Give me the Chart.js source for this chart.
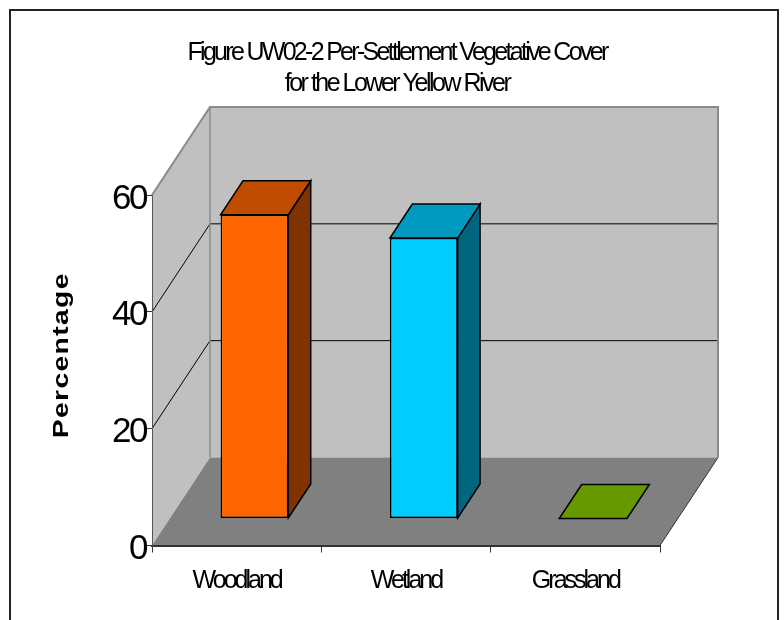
<!DOCTYPE html>
<html>
<head>
<meta charset="utf-8">
<title>Per-Settlement Vegetative Cover</title>
<style>
  html, body { margin: 0; padding: 0; background: #fff; }
  #wrap { width: 784px; height: 620px; }
  canvas { display: block; }
</style>
<script src="https://cdn.jsdelivr.net/npm/chart.js@4.4.1/dist/chart.umd.min.js"></script>
</head>
<body>
<div id="wrap"><canvas id="chart" width="784" height="620"></canvas></div>
<script>
// ---- data ----
const categories = ['Woodland', 'Wetland', 'Grassland'];
const coverPercent = [52, 48, 0];
const yTicks = [0, 20, 40, 60];
const titleLines = ['Figure UW02-2 Per-Settlement Vegetative Cover', 'for the Lower Yellow River'];
const axisTitle = 'Percentage';

// ---- face colours per bar (front / top / right side) ----
const frontColors = ['#FF6600', '#00CCFF', '#99CC00'];
const topColors = ['#C04C00', '#0099C0', '#669900'];
const sideColors = ['#803300', '#006680', '#4D6600'];

// ---- oblique depth of the box and of the bars ----
const DEPTH = { x: 58, y: -88 };
const BAR_FRONT = 0.307;   // fraction of the floor depth in front of the bars
const BAR_DEPTH = 0.386;   // fraction of the floor depth the bars occupy

const FONT = "'Liberation Sans', Arial, Helvetica, sans-serif";
Chart.defaults.font.family = FONT;

// run a drawing method with its own letter spacing and optional transform
function withSpacing(obj, method, spacing, opts) {
  if (!obj || obj['__sp_' + method]) return;
  const o = opts || {};
  const orig = obj[method];
  obj[method] = function (...args) {
    const c = this.ctx;
    c.save();
    c.letterSpacing = spacing;
    if (o.dx || o.dy) c.translate(o.dx || 0, o.dy || 0);
    if (o.stretchY) {
      const cy = (this.top + this.bottom) / 2;
      c.translate(0, cy);
      c.scale(1, o.stretchY);
      c.translate(0, -cy);
    }
    const r = orig.apply(this, args);
    c.restore();
    return r;
  };
  obj['__sp_' + method] = true;
}

function poly(ctx, pts, fill, stroke, lw) {
  ctx.beginPath();
  ctx.moveTo(pts[0][0], pts[0][1]);
  for (let i = 1; i < pts.length; i++) ctx.lineTo(pts[i][0], pts[i][1]);
  ctx.closePath();
  if (fill) { ctx.fillStyle = fill; ctx.fill(); }
  if (stroke) { ctx.strokeStyle = stroke; ctx.lineWidth = lw || 1; ctx.stroke(); }
}

function line(ctx, x1, y1, x2, y2, color, lw) {
  ctx.beginPath();
  ctx.moveTo(x1, y1);
  ctx.lineTo(x2, y2);
  ctx.strokeStyle = color;
  ctx.lineWidth = lw || 1;
  ctx.stroke();
}

// walls, floor and the extruded faces of the bars
const scene3d = {
  id: 'scene3d',
  beforeDraw(chart) {
    const ctx = chart.ctx;
    const { left, right, top, bottom } = chart.chartArea;
    const ys = chart.scales.y;
    const dx = DEPTH.x, dy = DEPTH.y;

    // per-element text spacing
    withSpacing(chart.titleBlock, 'draw', '-2.7px', { dx: 5 });
    chart.boxes.forEach(b => {
      if (b !== chart.titleBlock && b.options && b.options.text === titleLines[1]) {
        withSpacing(b, 'draw', '-2.5px', { dx: 5 });
      }
    });
    withSpacing(chart.scales.x, 'drawLabels', '-3px');
    withSpacing(ys, 'drawLabels', '-2.5px');
    withSpacing(ys, 'drawTitle', '1px', { dy: -15, stretchY: 1.29 });

    ctx.save();
    ctx.fillStyle = '#fff';
    ctx.fillRect(0, 0, chart.width, chart.height);

    // outer frame
    ctx.strokeStyle = '#222';
    ctx.lineWidth = 2;
    ctx.strokeRect(10, 10, 768, 640);

    // back wall
    poly(ctx, [[left + dx, top + dy], [right + dx, top + dy], [right + dx, bottom + dy], [left + dx, bottom + dy]], '#C0C0C0');
    // left wall
    poly(ctx, [[left, top], [left + dx, top + dy], [left + dx, bottom + dy], [left, bottom]], '#C0C0C0');
    // floor
    poly(ctx, [[left, bottom], [right, bottom], [right + dx, bottom + dy], [left + dx, bottom + dy]], '#808080');

    // gridlines on the walls
    yTicks.forEach(v => {
      if (v === ys.min || v === ys.max) return;
      const py = ys.getPixelForValue(v);
      line(ctx, left + dx, py + dy, right + dx, py + dy, '#000', 1);
      line(ctx, left, py, left + dx, py + dy, '#000', 1);
    });

    // wall edges
    const pTop = ys.getPixelForValue(ys.max);
    ctx.lineJoin = 'miter';
    ctx.beginPath();
    ctx.moveTo(left, pTop);
    ctx.lineTo(left + dx, pTop + dy);
    ctx.lineTo(right + dx, pTop + dy);
    ctx.lineTo(right + dx, bottom + dy);
    ctx.strokeStyle = '#8A8A8A';
    ctx.lineWidth = 2;
    ctx.stroke();
    line(ctx, left + dx, pTop + dy, left + dx, bottom + dy, '#8A8A8A', 1.5);
    // floor right edge
    line(ctx, right, bottom, right + dx, bottom + dy, '#333', 1);
    ctx.restore();
  },
  beforeDatasetsDraw(chart) {
    const ctx = chart.ctx;
    ctx.save();
    ctx.translate(DEPTH.x * BAR_FRONT, DEPTH.y * BAR_FRONT);
  },
  afterDatasetsDraw(chart) {
    const ctx = chart.ctx;
    const meta = chart.getDatasetMeta(0);
    const bx = DEPTH.x * BAR_DEPTH, by = DEPTH.y * BAR_DEPTH;
    ctx.lineJoin = 'miter';
    meta.data.forEach((bar, i) => {
      const { x, y, base, width } = bar.getProps(['x', 'y', 'base', 'width'], true);
      const l = x - width / 2, r = x + width / 2;
      if (base - y > 0.5) {
        poly(ctx, [[r, y], [r + bx, y + by], [r + bx, base + by], [r, base]], sideColors[i], '#000', 1.5);
      }
      poly(ctx, [[l, y], [r, y], [r + bx, y + by], [l + bx, y + by]], topColors[i], '#000', 1.5);
    });
    ctx.restore();
  }
};

new Chart(document.getElementById('chart'), {
  type: 'bar',
  data: {
    labels: categories,
    datasets: [{
      data: coverPercent,
      backgroundColor: frontColors,
      borderColor: '#000',
      borderWidth: 1.5,
      borderSkipped: false,
      barPercentage: 0.4,
      categoryPercentage: 1
    }]
  },
  options: {
    responsive: false,
    animation: false,
    devicePixelRatio: 1,
    layout: { padding: 0 },
    plugins: {
      legend: { display: false },
      tooltip: { enabled: false },
      title: {
        display: true,
        text: titleLines[0],
        color: '#000',
        font: { family: FONT, size: 25, weight: 'normal', lineHeight: 1.2 },
        padding: { top: 38, bottom: 0 }
      },
      subtitle: {
        display: true,
        text: titleLines[1],
        color: '#000',
        font: { family: FONT, size: 25, weight: 'normal', lineHeight: 1.2 },
        padding: { top: 1, bottom: 96 }
      }
    },
    scales: {
      x: {
        grid: { drawOnChartArea: false, drawTicks: true, tickLength: 7, color: '#333', offset: true },
        border: { display: true, color: '#333', width: 2 },
        ticks: { color: '#000', font: { size: 25 }, padding: 14, maxRotation: 0 },
        afterFit(s) { s.height = 620 - 545.5; }
      },
      y: {
        min: 0,
        max: 60,
        afterBuildTicks(s) { s.ticks = yTicks.map(v => ({ value: v })); },
        grid: { drawOnChartArea: false, drawTicks: true, tickLength: 5, color: '#333' },
        border: { display: true, color: '#555', width: 1 },
        ticks: { color: '#000', font: { size: 35 }, padding: 1, labelOffset: 4 },
        title: {
          display: true,
          text: axisTitle,
          color: '#000',
          font: { size: 22, weight: 'bold', lineHeight: 1.2 },
          padding: { top: 49, bottom: 0 }
        },
        afterFit(s) { s.width = 152; }
      },
      yRight: {
        type: 'linear',
        position: 'right',
        display: true,
        grid: { display: false },
        border: { display: false },
        ticks: { display: false },
        afterFit(s) { s.width = 124; }
      }
    }
  },
  plugins: [scene3d]
});
</script>
</body>
</html>
